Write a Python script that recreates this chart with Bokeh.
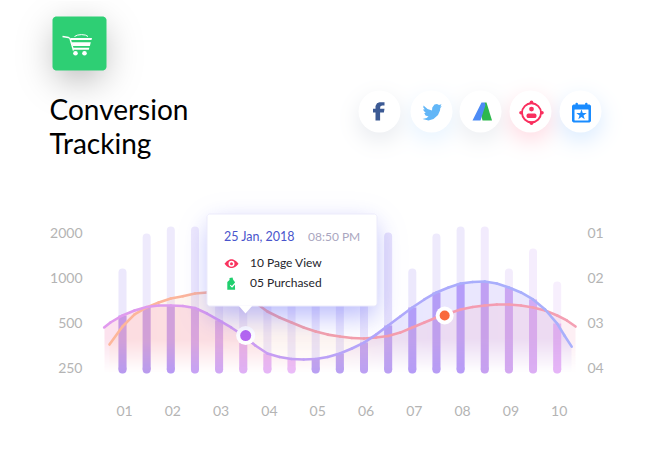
import math
import numpy as np
from bokeh.plotting import figure
from bokeh.models import Range1d, LinearScale, LogAxis, LinearAxis, FixedTicker, Label
from bokeh.embed import file_html
from bokeh.resources import INLINE

# ---------- data ----------
title_lines = ["Conversion", "Tracking"]
x_tick_labels = ["01", "02", "03", "04", "05", "06", "07", "08", "09", "10"]
y_ticks = [250, 500, 1000, 2000]
right_tick_labels = ["04", "03", "02", "01"]

bar_x = [1, 1.5, 2, 2.5, 3, 3.5, 4, 4.5, 5, 5.5, 6, 6.5, 7, 7.5, 8, 8.5, 9, 9.5, 10]
bar_top = [1080, 1852, 2062, 2062, 1500, 1200, 1700, 1300, 1800, 1500, 1700, 1880, 1080, 1852, 2062, 2062, 1080, 1470, 885]
bar_base = 242

line_a_x = [0.62, 0.75, 1, 1.25, 1.5, 1.75, 2, 2.25, 2.5, 2.75, 3, 3.25, 3.5, 3.75, 4, 4.25, 4.5, 4.75, 5, 5.25, 5.5,
            5.75, 6, 6.25, 6.5, 6.75, 7, 7.25, 7.5, 7.75, 8, 8.25, 8.5, 8.75, 9, 9.25, 9.5, 9.75, 10, 10.15, 10.3]
line_a_y = [463, 500, 557, 601, 635, 649, 649, 644, 625, 574, 516, 463, 409, 351, 310, 294, 285, 283, 285, 294, 310,
            335, 367, 415, 477, 548, 630, 713, 794, 857, 911, 933, 940, 911, 857, 794, 713, 611, 492, 409, 345]
line_b_x = [0.73, 1, 1.25, 1.5, 1.75, 2, 2.25, 2.5, 2.75, 3, 3.25, 3.5, 3.75, 4, 4.25, 4.5, 4.75, 5, 5.25, 5.5,
            5.75, 6, 6.25, 6.5, 6.75, 7, 7.25, 7.5, 7.75, 8, 8.25, 8.5, 8.75, 9, 9.25, 9.5, 9.75, 10, 10.2, 10.38]
line_b_y = [356, 470, 566, 630, 680, 724, 750, 781, 794, 800, 794, 745, 680, 592, 540, 500, 463, 435, 415, 403,
            394, 391, 397, 406, 428, 463, 500, 540, 574, 611, 635, 649, 659, 659, 649, 630, 601, 557, 516, 470]
marker_a = (3.55, 409)
marker_b = (7.67, 557)

tooltip_date = "25 Jan, 2018"
tooltip_time = "08:50 PM"
tooltip_rows = ["10 Page View", "05 Purchased"]

# ---------- styles ----------
bar_dark = ["#b89af0", "#b99bee", "#b89af5", "#c6a2f5", "#d0a8f5", "#dfb0f6", "#e6b6f7", "#ebbcf9", "#b9a0f3", "#b9a0f3",
            "#bca0f3", "#bba0f3", "#b59cf7", "#b79cf5", "#b89cf8", "#c6a0f1", "#d3a8f1", "#dcaef4", "#e6b5f8"]
bar_pale = ["#ece8fc", "#eeeafc", "#eeeafc", "#eee9fc", "#eee9fc", "#eee9fc", "#eee9fc", "#eee9fc", "#e9e5fc", "#e9e5fc",
            "#e9e5fc", "#e6e1fb", "#ece8fc", "#eeeafc", "#eeeafc", "#f2ebfd", "#f3ecfc", "#f5edfd", "#f7effd"]
FONT = "Lato"
W, H = 636, 451


def px(x):
    return 122 + 48.3 * (np.asarray(x, dtype=float) - 1)


def py(v):
    return 367 - 45 * np.log2(np.asarray(v, dtype=float) / 250)


def data_x(sx):
    return 1 + (sx - 122) / 48.3


def data_y(sy):
    return 250 * 2 ** ((367 - sy) / 45)


def hex_rgb(c):
    return np.array([int(c[i:i + 2], 16) / 255 for i in (1, 3, 5)])


p = figure(width=W, height=H, output_backend="svg", toolbar_location=None, y_axis_type="log",
           x_axis_location=None, y_axis_location=None,
           x_range=Range1d(data_x(0), data_x(W)), y_range=Range1d(data_y(H), data_y(0)),
           min_border=0, min_border_left=0, min_border_right=0, min_border_top=0, min_border_bottom=0)
p.outline_line_color = None
p.background_fill_color = "white"
p.grid.visible = False
p.extra_x_ranges = {"px": Range1d(0, W), "labels": Range1d(data_x(-2), data_x(W - 2))}
p.extra_x_scales = {"px": LinearScale(), "labels": LinearScale()}
p.extra_y_ranges = {"px": Range1d(H, 0), "cv": Range1d(0, H)}
p.extra_y_scales = {"px": LinearScale(), "cv": LinearScale()}
PX = dict(x_range_name="px", y_range_name="px")

erf = np.vectorize(math.erf)
XS = np.arange(W) + 0.5
YS = np.arange(H) + 0.5
XX, YY = np.meshgrid(XS, YS)


def box_shadow(x0, y0, x1, y1, s):
    q = s * math.sqrt(2)
    fx = 0.5 * (erf((XS - x0) / q) - erf((XS - x1) / q))
    fy = 0.5 * (erf((YS - y0) / q) - erf((YS - y1) / q))
    return np.outer(fy, fx)


def circle_shadow(cx, cy, r, s):
    d = np.hypot(XX - cx, YY - cy)
    return 0.5 * (1 - erf((d - r) / (s * math.sqrt(2))))


def to_image(rgb, a):
    out = np.zeros((H, W, 4), dtype=np.uint8)
    out[..., :3] = np.clip(rgb * 255 + 0.5, 0, 255)
    out[..., 3] = np.clip(a * 255 + 0.5, 0, 255)
    img = np.frombuffer(out[::-1].tobytes(), dtype=np.uint32).reshape(H, W)
    return img


def add_image(img):
    p.image_rgba(image=[img], x=[0], y=[0], dw=[W], dh=[H], x_range_name="px", y_range_name="cv")


def round_poly(x0, y0, x1, y1, r):
    t = np.linspace(0, np.pi / 2, 8)
    xs = np.concatenate([x1 - r + r * np.sin(t), x1 - r + r * np.cos(t), x0 + r - r * np.sin(t), x0 + r - r * np.cos(t)])
    ys = np.concatenate([y0 + r - r * np.cos(t), y1 - r + r * np.sin(t), y1 - r + r * np.cos(t), y0 + r - r * np.sin(t)])
    return xs, ys


def poly(pts, color):
    p.patch([a for a, _ in pts], [b for _, b in pts], color=color, line_color=None, **PX)


def rrect(x0, y0, x1, y1, r, color, **kw):
    xs, ys = round_poly(x0, y0, x1, y1, r)
    p.patch(xs, ys, fill_color=color, line_color=kw.get("line_color"), line_width=kw.get("line_width", 1), **PX)


def dot(x, y, size, color):
    p.scatter([x], [y], size=size, fill_color=color, line_color=None, **PX)


# ---------- background shadows ----------
bg = np.ones((H, W, 3))


def paint(mask, color, alpha):
    a = (mask * alpha)[..., None]
    bg[:] = bg * (1 - a) + hex_rgb(color) * a


paint(box_shadow(56, 28, 102, 78, 17), "#000000", 0.30)
icon_cx = [379, 431, 480, 530, 580]
icon_shadow = [("#8c9ab0", 0.17), ("#7cc0ff", 0.16), ("#8c9ab0", 0.15), ("#ff4a74", 0.18), ("#4aa0ff", 0.18)]
for cx, (c, a) in zip(icon_cx, icon_shadow):
    paint(circle_shadow(cx, 119, 20, 10), c, a)
add_image(to_image(bg, np.ones((H, W))))

# ---------- bars (pale full height, then solid below curve A) ----------
p.segment(x0=bar_x, y0=[bar_base] * len(bar_x), x1=bar_x, y1=bar_top, line_color=bar_pale, line_width=8, line_cap="round")
dark_top = [line_a_y[line_a_x.index(b)] for b in bar_x]
p.segment(x0=bar_x, y0=[bar_base] * len(bar_x), x1=bar_x, y1=dark_top, line_color=bar_dark, line_width=8, line_cap="butt")
p.segment(x0=bar_x, y0=[bar_base] * len(bar_x), x1=bar_x, y1=[bar_base + 1] * len(bar_x), line_color=bar_dark, line_width=8, line_cap="round")

# ---------- gradient area under the two curves ----------
ya = np.interp(XS, px(line_a_x), py(line_a_y), left=1e4, right=1e4)
yb = np.interp(XS, px(line_b_x), py(line_b_y), left=1e4, right=1e4)
fade = np.clip((373 - YY) / 34, 0, 1) ** 1.1


def ramp(stops):
    xs = [s[0] for s in stops]
    cols = np.array([hex_rgb(s[1]) for s in stops])
    return np.stack([np.interp(XS, xs, cols[:, i]) for i in range(3)], axis=-1)


col_a = ramp([(110, "#f490bc"), (300, "#f59ac0"), (400, "#aaa4fb"), (575, "#b6a4f8")])
col_b = ramp([(110, "#fcc4a4"), (340, "#fbc8b0"), (430, "#f4a4c0"), (575, "#f4a4c0")])
mask_a = np.clip(YY - ya[None, :] + 0.5, 0, 1) * fade * 0.26
mask_b = np.clip(YY - yb[None, :] + 0.5, 0, 1) * fade * 0.18
prem = col_a[None, :, :] * mask_a[..., None]
al = mask_a.copy()
prem = col_b[None, :, :] * mask_b[..., None] + prem * (1 - mask_b[..., None])
al = mask_b + al * (1 - mask_b)
add_image(to_image(prem / np.maximum(al, 1e-6)[..., None], al))

# ---------- curves with colour running along them ----------


def ramp_segments(xv, yv, stops):
    sx = px(xv)
    mid = (sx[:-1] + sx[1:]) / 2
    xs = [s[0] for s in stops]
    cols = np.array([hex_rgb(s[1]) for s in stops])
    chan = [np.interp(mid, xs, cols[:, i]) for i in range(3)]
    colors = ["#%02x%02x%02x" % tuple(int(round(c[k] * 255)) for c in chan) for k in range(len(mid))]
    p.multi_line([[xv[i], xv[i + 1]] for i in range(len(mid))], [[yv[i], yv[i + 1]] for i in range(len(mid))],
                 line_color=colors, line_width=2.6, line_cap="round")


ramp_segments(line_b_x, line_b_y, [(109, "#fdb79a"), (220, "#fbb39c"), (291, "#f5a3a8"), (443, "#f49ab0"), (575, "#f4a0b3")])
ramp_segments(line_a_x, line_a_y, [(104, "#e09aee"), (200, "#dc9cee"), (280, "#c49df3"), (388, "#b0a8fb"), (485, "#a9aefc"), (572, "#a9b0fb")])

# ---------- axes ----------
left = LogAxis(fixed_location=data_x(82), ticker=FixedTicker(ticks=y_ticks))
left.major_label_overrides = {t: str(t) for t in y_ticks}
right = LogAxis(fixed_location=data_x(587), ticker=FixedTicker(ticks=y_ticks))
right.major_label_overrides = dict(zip(y_ticks, right_tick_labels))
bottom = LinearAxis(fixed_location=data_y(405), ticker=FixedTicker(ticks=list(range(1, 11))), x_range_name="labels")
bottom.major_label_overrides = {i + 1: t for i, t in enumerate(x_tick_labels)}
for ax in (left, right, bottom):
    ax.axis_line_color = None
    ax.major_tick_line_color = None
    ax.minor_tick_line_color = None
    ax.major_tick_out = 0
    ax.major_tick_in = 0
    ax.major_label_text_color = "#b4b4b4"
    ax.major_label_text_font = FONT
    ax.major_label_text_font_size = "14px"
    ax.major_label_standoff = 0
p.add_layout(left, "left")
p.add_layout(right, "right")
p.add_layout(bottom, "below")

# ---------- markers ----------
p.scatter([marker_a[0]], [marker_a[1]], size=19, fill_color="white", line_color=None)
p.scatter([marker_a[0]], [marker_a[1]], size=11, fill_color="#b565f0", line_color=None)
p.scatter([marker_b[0]], [marker_b[1]], size=18, fill_color="white", line_color=None)
p.scatter([marker_b[0]], [marker_b[1]], size=10, fill_color="#f96a3c", line_color=None)

# ---------- tooltip ----------
sh = box_shadow(209, 224, 375, 316, 13) * 0.42
add_image(to_image(np.broadcast_to(hex_rgb("#5a5cf6"), (H, W, 3)), sh))
rrect(206.5, 213.5, 376.5, 305.5, 3, "#ffffff", line_color="#ecebfb", line_width=1)
poly([(238, 305), (252, 305), (245, 313)], "#ffffff")


def text(x, y, s, color, size, **kw):
    p.add_layout(Label(x=x, y=y, text=s, text_color=color, text_font=FONT, text_font_size=size,
                       text_baseline="middle", **PX, **kw))


text(223.5, 235.5, tooltip_date, "#4a55cc", "12.5px")
text(307.5, 236, tooltip_time, "#aaa6c0", "12px")
text(249.5, 262, tooltip_rows[0], "#24242c", "12px")
text(249.5, 282, tooltip_rows[1], "#24242c", "12px")

# eye icon
t = np.linspace(-1, 1, 17)
eye_top = [(231 + 7 * v, 263.2 - 4.4 * (1 - v * v)) for v in t]
eye_bot = [(231 + 7 * v, 263.2 + 4.4 * (1 - v * v)) for v in t[::-1]]
poly(eye_top + eye_bot, "#f9345f")
dot(231, 263.2, 6, "#ffffff")
dot(231, 263.2, 3, "#f9345f")
# bag icon
poly([(226.8, 289.3), (226.8, 281.5), (229, 279.5), (229, 277.6), (232, 277), (232.8, 279.5), (234.4, 281.5), (234.6, 289.3)], "#20cf6e")
p.line([229.8, 231.4, 235.5], [284.5, 286.5, 282], line_color="#ffffff", line_width=1.2, **PX)

# ---------- title and icons ----------
text(49, 108.5, title_lines[0], "#000000", "28px")
text(49, 142.5, title_lines[1], "#000000", "28px")

rrect(52, 16, 106, 70, 4, "#2ecf74")
# cart
p.line([62, 68, 69.5, 73], [36, 37, 38, 50], line_color="#ffffff", line_width=1.4, **PX)
poly([(70, 37.5), (91.5, 37.5), (91, 39.6), (70.5, 39.6)], "#ffffff")
poly([(71, 41.7), (90.3, 41.7), (89.4, 45.6), (72, 45.6)], "#ffffff")
poly([(72.4, 47.2), (88.8, 47.2), (88.3, 49.2), (73, 49.2)], "#ffffff")
p.line([74, 77, 81, 85, 87.5], [36, 34.6, 34.1, 34.6, 36], line_color="#ffffff", line_width=1, **PX)
dot(75, 52.7, 4.6, "#ffffff")
dot(84, 52.7, 4.6, "#ffffff")

for cx in icon_cx:
    dot(cx, 111, 42, "#ffffff")

# facebook f
poly([(375, 120), (375, 112), (372.5, 112), (372.5, 108.3), (375, 108.3), (375, 105.5), (376.5, 102.7), (379, 101.7), (384, 101.7),
      (384, 105), (381.5, 105), (379.8, 106), (379.6, 108.3), (384, 108.3), (383.4, 112), (379.6, 112), (379.6, 120)], "#3c5a94")
# twitter bird
poly([(423, 105), (427, 108.5), (431.5, 110), (431.8, 107), (434, 104), (436.5, 103.5), (438.5, 104.5), (441, 103.8),
      (439.8, 106), (441.3, 105.8), (439.8, 107.5), (439.5, 110), (437.5, 114.5), (433, 118.5), (428, 120), (422, 118.5),
      (426, 117.5), (428, 116), (425, 115), (423.7, 112.5), (425.3, 112.5), (423, 110), (423, 108.5), (424.5, 109), (422.8, 107)], "#62b6f7")
# ads logo
poly([(484, 102), (486, 102), (491.5, 120), (482, 120), (480, 112)], "#2db84d")
poly([(472, 120), (480, 120), (485, 104.5), (484, 102), (481, 102)], "#4c8bf5")
# target
p.scatter([531], [112.3], size=19, fill_color=None, line_color="#f92f5e", line_width=1.9, **PX)
for dx, dy in [(0, -10.5), (0, 10.5), (-10.5, 0), (10.5, 0)]:
    dot(531 + dx, 112.3 + dy, 3.6, "#f92f5e")
dot(531, 108.6, 4.8, "#f92f5e")
rrect(526, 113, 536, 117.6, 2, "#f92f5e")
# calendar
rrect(571.5, 104, 590.5, 122, 2, "#1a8cff")
rrect(574, 109, 588, 120, 0.5, "#ffffff")
rrect(575, 102.3, 577.4, 106, 1, "#1a8cff")
rrect(584.6, 102.3, 587, 106, 1, "#1a8cff")
p.scatter([581], [114.3], marker="star", size=11, fill_color="#1a8cff", line_color=None, **PX)

open("out.html", "w").write(file_html(p, INLINE))
